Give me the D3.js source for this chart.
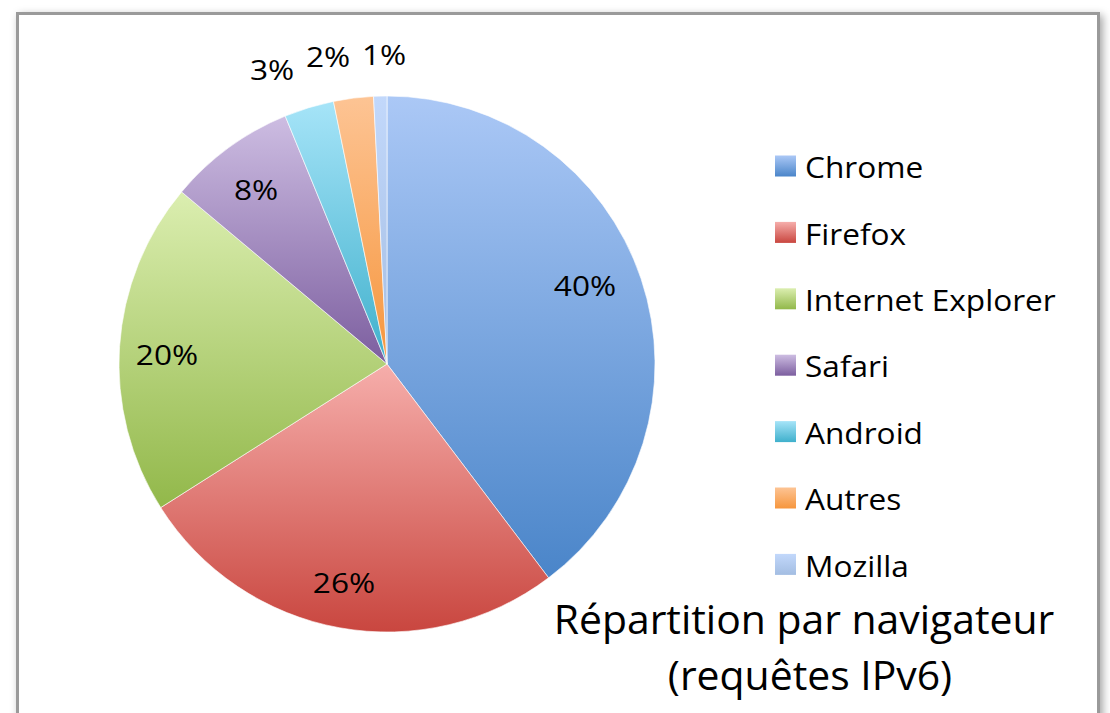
<!DOCTYPE html>
<html><head><meta charset="utf-8">
<script src="https://cdn.jsdelivr.net/npm/d3@7/dist/d3.min.js"></script>
<style>body{margin:0;background:#fff;}svg{display:block;}</style>
</head><body>
<svg id="c" width="1110" height="713"></svg>
<script>
const categories = ["Chrome","Firefox","Internet Explorer","Safari","Android","Autres","Mozilla"];
const values = [39.7, 26.3, 20.1, 7.7, 3.0, 2.4, 0.8];
const labels = ["40%","26%","20%","8%","3%","2%","1%"];
const colorsTop = ["#abc8f6","#f6aeab","#dbeeb0","#cdbde2","#a6e4f8","#fdc494","#c2d8fb"];
const colorsBottom = ["#4a85c9","#c9463f","#92b84a","#7c5e9f","#3fb0cc","#f6963d","#a3bde2"];
const titleLines = ["Répartition par navigateur","(requêtes IPv6)"];

const svg = d3.select("#c");
const font = "'Open Sans', 'DejaVu Sans', sans-serif";
const defs = svg.append("defs");

const f = defs.append("filter").attr("id","sh").attr("x","-5%").attr("y","-5%").attr("width","110%").attr("height","110%");
f.append("feDropShadow").attr("dx",3).attr("dy",3).attr("stdDeviation",4).attr("flood-color","#000").attr("flood-opacity",0.35);

svg.append("rect").attr("x",17.5).attr("y",13.5).attr("width",1081).attr("height",760)
  .attr("fill","#fff").attr("stroke","#9a9a9a").attr("stroke-width",3).attr("filter","url(#sh)");

categories.forEach((c,i)=>{
  const g = defs.append("linearGradient").attr("id","g"+i).attr("x1",0).attr("y1",0).attr("x2",0).attr("y2",1);
  g.append("stop").attr("offset","0%").attr("stop-color",colorsTop[i]);
  g.append("stop").attr("offset","100%").attr("stop-color",colorsBottom[i]);
});

const cx = 387, cy = 364, r = 268;
const pie = d3.pie().sort(null).value(d=>d.v);
const arcs = pie(categories.map((c,i)=>({c, v: values[i], i})));
const arc = d3.arc().innerRadius(0).outerRadius(r);
const gp = svg.append("g").attr("transform",`translate(${cx},${cy})`);
gp.selectAll("path").data(arcs).join("path")
  .attr("d",arc).attr("fill",d=>`url(#g${d.data.i})`)
  .attr("stroke","rgba(255,255,255,0.6)").attr("stroke-width",1);

// label anchor points (layout)
const labelPos = [[585,286],[344,583],[167,355],[256,190],[272,70],[328,57],[384,55]];
svg.append("g").selectAll("text").data(arcs).join("text")
  .attr("transform",d=>{const p = labelPos[d.index]; return `translate(${p[0]},${p[1]}) scale(1.13,1)`;})
  .attr("text-anchor","middle").attr("dy","0.36em")
  .attr("font-family",font).attr("font-size",28).attr("fill","#000")
  .text(d=>labels[d.index]);

// legend
const leg = svg.append("g");
categories.forEach((c,i)=>{
  const y = 167.5 + i*66.4;
  leg.append("rect").attr("x",775).attr("y",y-12).attr("width",21).attr("height",21).attr("fill",`url(#g${i})`);
  leg.append("text").attr("transform",`translate(805,${y}) scale(1.09,1)`).attr("dy","0.37em")
    .attr("font-family",font).attr("font-size",29).attr("fill","#000").text(c);
});

// title
svg.append("text").attr("transform","translate(804,634) scale(1.01,1)").attr("text-anchor","middle")
  .attr("font-family",font).attr("font-size",40.5).attr("fill","#000").text(titleLines[0]);
svg.append("text").attr("transform","translate(810,690) scale(1.01,1)").attr("text-anchor","middle")
  .attr("font-family",font).attr("font-size",40.5).attr("fill","#000").text(titleLines[1]);
</script>
</body></html>
